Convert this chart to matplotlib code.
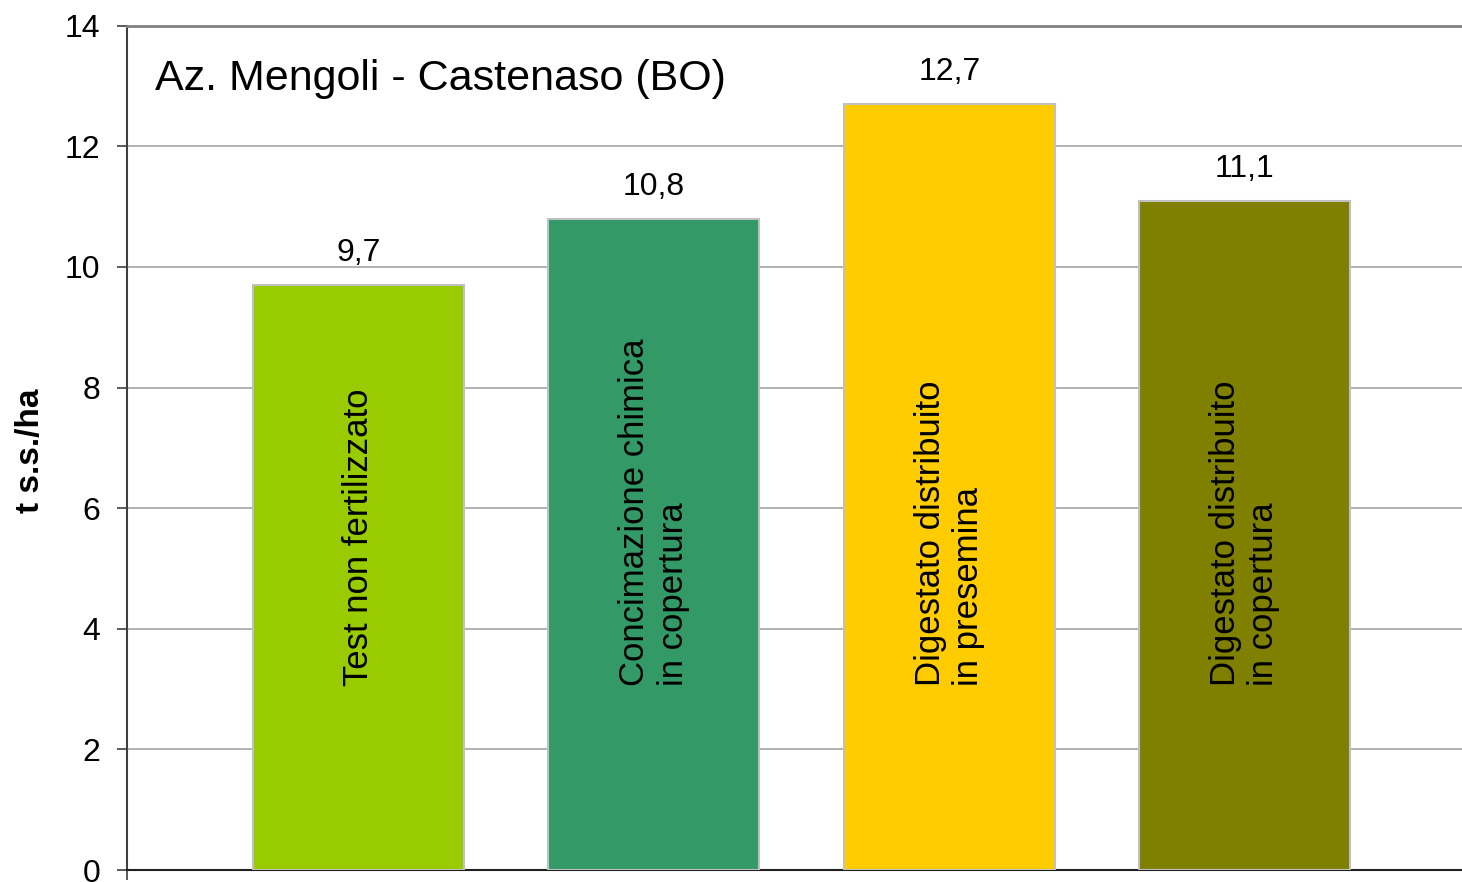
import matplotlib
matplotlib.use("Agg")
import matplotlib.pyplot as plt

plt.rcParams['font.family'] = ['Liberation Sans', 'DejaVu Sans']

categories = [
    "Test non fertilizzato",
    "Concimazione chimica\nin copertura",
    "Digestato distribuito\nin presemina",
    "Digestato distribuito\nin copertura",
]
values = [9.7, 10.8, 12.7, 11.1]
value_labels = ["9,7", "10,8", "12,7", "11,1"]
colors = ["#99CC00", "#339966", "#FFCC00", "#808000"]
yticks = [0, 2, 4, 6, 8, 10, 12, 14]

fig = plt.figure(figsize=(14.62, 8.82), dpi=100)
ax = fig.add_axes([127 / 1462, 12 / 882, 1 - 127 / 1462, (870 - 25.7) / 882])

x = list(range(len(values)))
ax.bar(x, values, width=0.714, color=colors, edgecolor="#C0C0C0", linewidth=1.5, zorder=3)

for xi, v, lab, cat in zip(x, values, value_labels, categories):
    ax.annotate(lab, (xi, v), xytext=(0, 12), textcoords="offset points",
                ha="center", va="bottom", fontsize=23, zorder=4)
    ax.text(xi, 3.05, cat, rotation=90, ha="center", va="bottom",
            multialignment="left", fontsize=25, linespacing=1.2, zorder=4)

ax.set_xlim(-0.784, 3.736)
ax.set_ylim(0, 14)
ax.set_yticks(yticks)
ax.set_yticklabels([str(t) for t in yticks], fontsize=23)
ax.yaxis.grid(True, color="#A6A6A6", linewidth=1.2, zorder=0)
ax.set_axisbelow(True)

ax.set_xticks([-0.784])
ax.set_xticklabels([""])
ax.tick_params(axis="x", direction="out", length=7, width=1.2, color="#404040")
ax.tick_params(axis="y", direction="out", length=7, width=1.2, color="#404040", pad=12)

ax.spines["right"].set_visible(False)
ax.spines["top"].set_color("#808080")
ax.spines["top"].set_linewidth(2)
ax.spines["left"].set_color("#404040")
ax.spines["left"].set_linewidth(1.5)
ax.spines["bottom"].set_color("#202020")
ax.spines["bottom"].set_linewidth(1.5)

ax.set_ylabel("t s.s./ha", fontsize=24, fontweight="bold")
ax.yaxis.set_label_coords(-0.061, 0.497)

ax.text(155 / 1462, 1 - 90 / 882, "Az. Mengoli - Castenaso (BO)", transform=fig.transFigure,
        fontsize=31, ha="left", va="baseline")

fig.savefig("out.png", dpi=100)
